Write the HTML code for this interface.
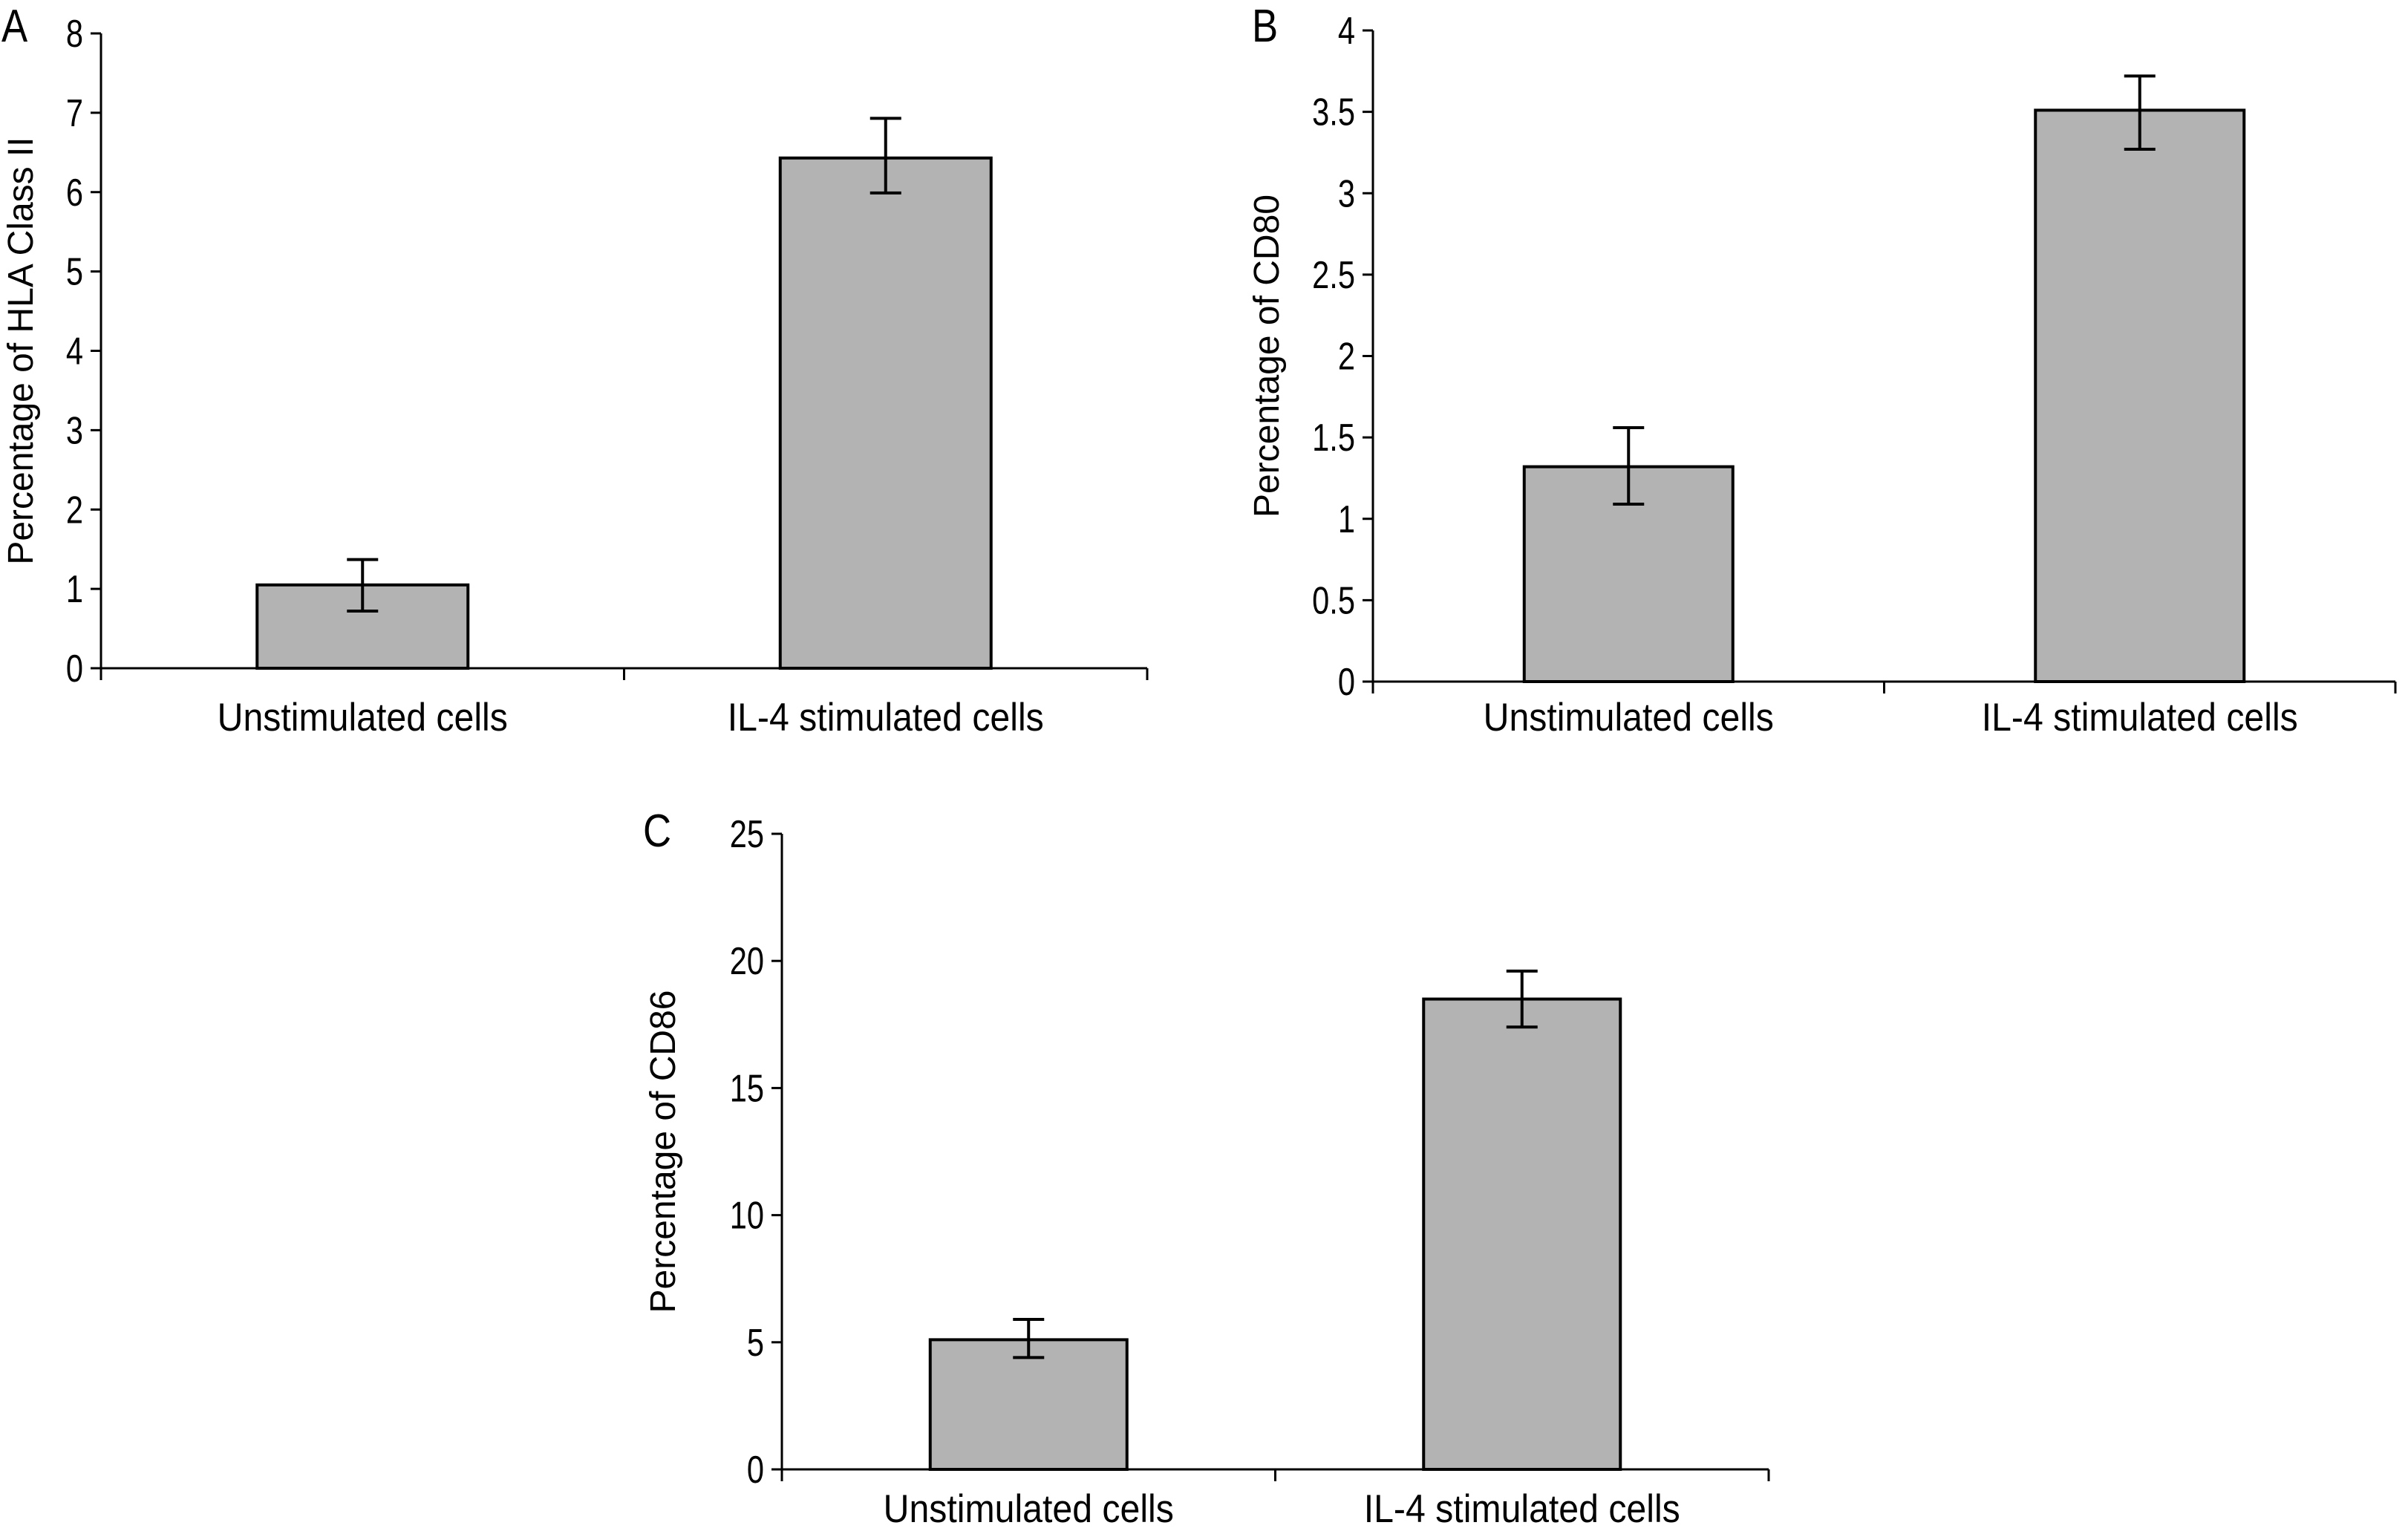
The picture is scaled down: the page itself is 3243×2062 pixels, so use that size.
<!DOCTYPE html>
<html><head><meta charset="utf-8"><style>
html,body{margin:0;padding:0;background:#fff;}
svg{display:block;}
text{font-family:"Liberation Sans",sans-serif;fill:#000;}
</style></head><body>
<svg id="fig" width="3243" height="2062" viewBox="0 0 3243 2062" xmlns="http://www.w3.org/2000/svg"></svg>
<script>
const categories = ["Unstimulated cells", "IL-4 stimulated cells"];
const hlaValues = [1.05, 6.43];
const hlaUpper = [1.37, 6.93];
const hlaLower = [0.72, 5.99];
const hlaTicks = [0,1,2,3,4,5,6,7,8];
const cd80Values = [1.32, 3.51];
const cd80Upper = [1.56, 3.72];
const cd80Lower = [1.09, 3.27];
const cd80Ticks = [0,0.5,1,1.5,2,2.5,3,3.5,4];
const cd86Values = [5.1, 18.5];
const cd86Upper = [5.9, 19.6];
const cd86Lower = [4.4, 17.4];
const cd86Ticks = [0,5,10,15,20,25];

const NS = "http://www.w3.org/2000/svg";
const svg = document.getElementById('fig');
function mk(tag, attrs, parent, txt){
  const e = document.createElementNS(NS, tag);
  for (const k in attrs) e.setAttribute(k, attrs[k]);
  if (txt !== undefined) e.textContent = txt;
  (parent||svg).appendChild(e);
  return e;
}

function panel(cfg){
  const g = mk('g', {});
  
  
  const max = cfg.ticks[cfg.ticks.length-1];
  const y = v => cfg.y0 - (v/max)*(cfg.y0 - cfg.yTop);
  const bandW = (cfg.xEnd - cfg.x0)/categories.length;
  const xc = i => cfg.x0 + bandW*(i+0.5);
  const lt = mk('text', {x: 0, y: 0, 'font-size': 62,
    transform: `translate(${cfg.letterX},${cfg.letterY}) scale(0.85,1)`}, g, cfg.letter);
  
  
  const yt = mk('text', {x: 0, y: 0, 'font-size': 48, 'text-anchor': 'middle',
    transform: `translate(${cfg.titleX},${(cfg.y0+cfg.yTop)/2}) rotate(-90)`}, g, cfg.title);
  
  
  cfg.values.forEach((v,i)=>{
    const cx = xc(i);
    const r = mk('rect', {x: cx - cfg.barW/2, y: y(v), width: cfg.barW, height: cfg.y0 - y(v),
      fill: '#b3b3b3', stroke: '#000', 'stroke-width': 4}, g);
    
    
    const eb = mk('g', {stroke: '#000', 'stroke-width': 4}, g);
    
    
    mk('line', {x1: cx, x2: cx, y1: y(cfg.upper[i]), y2: y(cfg.lower[i])}, eb);
    mk('line', {x1: cx-21, x2: cx+21, y1: y(cfg.upper[i]), y2: y(cfg.upper[i])}, eb);
    mk('line', {x1: cx-21, x2: cx+21, y1: y(cfg.lower[i]), y2: y(cfg.lower[i])}, eb);
    const cl = mk('text', {x: 0, y: 0, 'font-size': 53, 'text-anchor': 'middle',
      transform: `translate(${cx},${cfg.catY}) scale(0.91,1)`}, g, categories[i]);
    
    
  });
  const ax = mk('g', {stroke: '#000', 'stroke-width': 3}, g);
  
  
  mk('line', {x1: cfg.x0, x2: cfg.x0, y1: cfg.yTop, y2: cfg.y0 + 16}, ax);
  mk('line', {x1: cfg.x0, x2: cfg.xEnd, y1: cfg.y0, y2: cfg.y0}, ax);
  for (let i=1;i<=categories.length;i++){
    const xx = cfg.x0 + bandW*i;
    mk('line', {x1: xx, x2: xx, y1: cfg.y0, y2: cfg.y0+16}, ax);
  }
  cfg.ticks.forEach(t=>{
    mk('line', {x1: cfg.x0-14, x2: cfg.x0, y1: y(t), y2: y(t)}, ax);
    const tl = mk('text', {x: 0, y: 0, 'font-size': 52, 'text-anchor': 'end',
      transform: `translate(${cfg.x0 - 24},${y(t) + 18}) scale(0.8,1)`}, g, String(t));
    
    
  });
}

panel({name:'panel-a-hla-class-ii', letter:'A', letterX:2, letterY:56, title:'Percentage of HLA Class II',
  titleX:44, x0:136, xEnd:1545, yTop:45, y0:900, barW:284, catY:984,
  values:hlaValues, upper:hlaUpper, lower:hlaLower, ticks:hlaTicks});
panel({name:'panel-b-cd80', letter:'B', letterX:1686, letterY:56, title:'Percentage of CD80',
  titleX:1722, x0:1849, xEnd:3226, yTop:41, y0:918, barW:281, catY:984,
  values:cd80Values, upper:cd80Upper, lower:cd80Lower, ticks:cd80Ticks});
panel({name:'panel-c-cd86', letter:'C', letterX:866, letterY:1140, title:'Percentage of CD86',
  titleX:909, x0:1053, xEnd:2382, yTop:1123, y0:1979, barW:265, catY:2050,
  values:cd86Values, upper:cd86Upper, lower:cd86Lower, ticks:cd86Ticks});
</script>
</body></html>
